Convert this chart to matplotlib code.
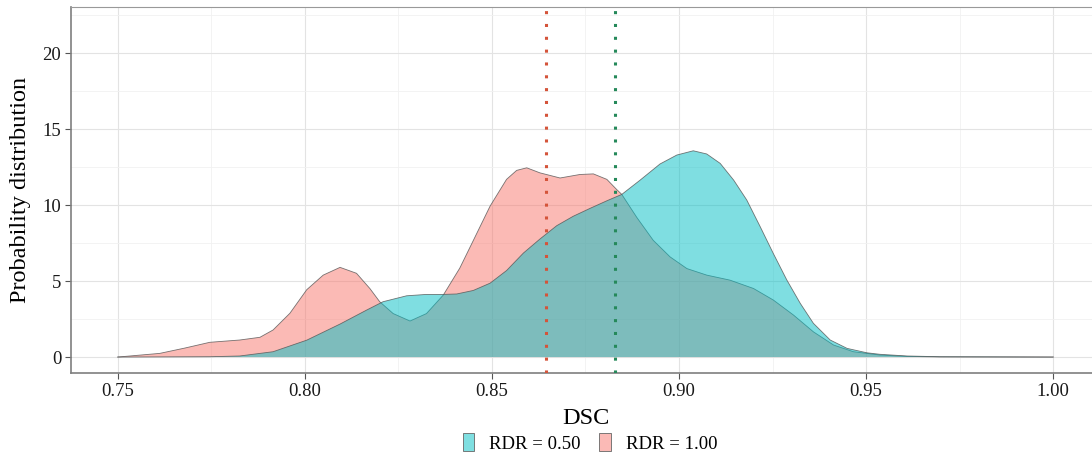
import matplotlib
matplotlib.use("Agg")
import matplotlib.pyplot as plt
from matplotlib.patches import Patch
from matplotlib.ticker import MultipleLocator

plt.rcParams['font.family'] = ['Liberation Serif', 'DejaVu Serif']

# RDR = 1.00 density
dsc_red = [0.7500, 0.7612, 0.7679, 0.7746, 0.7826, 0.7880, 0.7915, 0.7960, 0.8005, 0.8049,
           0.8094, 0.8138, 0.8174, 0.8200, 0.8236, 0.8281, 0.8325, 0.8370, 0.8414, 0.8450,
           0.8495, 0.8539, 0.8566, 0.8593, 0.8628, 0.8682, 0.8735, 0.8771, 0.8807, 0.8833,
           0.8847, 0.8887, 0.8931, 0.8976, 0.9021, 0.9074, 0.9136, 0.9199, 0.9252, 0.9306,
           0.9359, 0.9413, 0.9466, 0.9537, 0.9609, 0.9698, 1.0000]
dens_red = [0.00, 0.24, 0.59, 0.97, 1.12, 1.30, 1.78, 2.88, 4.43, 5.39,
            5.90, 5.51, 4.50, 3.64, 2.86, 2.37, 2.86, 4.08, 5.85, 7.66,
            9.93, 11.69, 12.28, 12.45, 12.12, 11.78, 12.01, 12.05, 11.69, 11.03,
            10.70, 9.19, 7.68, 6.59, 5.82, 5.39, 5.06, 4.51, 3.75, 2.76,
            1.66, 0.79, 0.35, 0.13, 0.04, 0.01, 0.00]

# RDR = 0.50 density
dsc_teal = [0.7500, 0.7746, 0.7826, 0.7915, 0.8005, 0.8094, 0.8165, 0.8209, 0.8272, 0.8325,
            0.8370, 0.8406, 0.8450, 0.8495, 0.8539, 0.8584, 0.8628, 0.8673, 0.8717, 0.8762,
            0.8807, 0.8847, 0.8896, 0.8949, 0.8994, 0.9038, 0.9074, 0.9110, 0.9146, 0.9181,
            0.9217, 0.9252, 0.9288, 0.9324, 0.9359, 0.9404, 0.9449, 0.9502, 0.9537, 0.9609,
            0.9698, 1.0000]
dens_teal = [0.00, 0.02, 0.07, 0.35, 1.11, 2.17, 3.09, 3.64, 4.03, 4.12,
             4.12, 4.15, 4.38, 4.86, 5.69, 6.84, 7.76, 8.64, 9.26, 9.78,
             10.28, 10.70, 11.64, 12.70, 13.29, 13.57, 13.36, 12.74, 11.64, 10.33,
             8.57, 6.81, 5.07, 3.53, 2.22, 1.12, 0.57, 0.28, 0.18, 0.07,
             0.02, 0.00]

mean_red = 0.8644
mean_teal = 0.8829
labels = ["RDR = 0.50", "RDR = 1.00"]

fig = plt.figure(figsize=(10.92, 4.57), dpi=100)
ax = fig.add_axes([71/1092, 1-373/457, (1100-71)/1092, (373-7)/457])

ax.fill_between(dsc_red, dens_red, 0, facecolor="#F8766D", alpha=0.5, edgecolor="none", zorder=2)
ax.plot(dsc_red, dens_red, color="#555555", lw=0.6, alpha=0.8, zorder=3)
ax.fill_between(dsc_teal, dens_teal, 0, facecolor="#00BFC4", alpha=0.5, edgecolor="none", zorder=4)
ax.plot(dsc_teal, dens_teal, color="#555555", lw=0.6, alpha=0.8, zorder=5)

ax.axvline(mean_red, color="#D4543A", ls=(0, (1, 3.2)), lw=2.2, zorder=6)
ax.axvline(mean_teal, color="#25895A", ls=(0, (1, 3.2)), lw=2.2, zorder=6)

ax.set_xlim(0.7375, 1.0125)
ax.set_ylim(-1.05, 23.03)
ax.xaxis.set_major_locator(MultipleLocator(0.05))
ax.xaxis.set_minor_locator(MultipleLocator(0.025))
ax.yaxis.set_major_locator(MultipleLocator(5))
ax.yaxis.set_minor_locator(MultipleLocator(2.5))
ax.set_xticks([0.75, 0.80, 0.85, 0.90, 0.95, 1.00])
ax.set_xticklabels(["0.75", "0.80", "0.85", "0.90", "0.95", "1.00"])
ax.grid(which="major", color="#E3E3E3", lw=0.8, zorder=0)
ax.grid(which="minor", color="#F1F1F1", lw=0.6, zorder=0)
ax.set_axisbelow(True)
ax.tick_params(which="minor", length=0)
ax.tick_params(which="major", length=4, color="#555555", labelsize=13.5, labelcolor="#1a1a1a", pad=3)

for s in ["left", "bottom"]:
    ax.spines[s].set_color("#7F7F7F")
    ax.spines[s].set_linewidth(1.2)
for s in ["top", "right"]:
    ax.spines[s].set_color("#999999")
    ax.spines[s].set_linewidth(0.8)

ax.set_xlabel("DSC", fontsize=17.5, labelpad=6)
ax.set_ylabel("Probability distribution", fontsize=17.5, labelpad=8)

handles = [Patch(facecolor="#7FDFE1", edgecolor="#666666", lw=0.6),
           Patch(facecolor="#FBBAB6", edgecolor="#666666", lw=0.6)]
fig.legend(handles, labels, loc="center", bbox_to_anchor=(590/1092, 1-443/457), ncol=2,
           frameon=False, fontsize=13.5, handlelength=0.6, handleheight=1.1,
           handletextpad=0.8, columnspacing=1.0)

fig.savefig("out.png", dpi=100)
